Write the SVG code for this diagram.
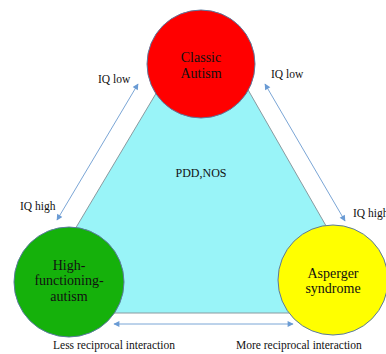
<svg xmlns="http://www.w3.org/2000/svg" width="386" height="354" viewBox="0 0 386 354">
<style>
.t{font-family:"Liberation Serif","Times New Roman",serif;fill:#111;}
.lbl{font-size:11.5px;}
.node{font-size:14px;text-anchor:middle;}
.arr{stroke:#7ba6d6;stroke-width:1;fill:none;marker-start:url(#ah);marker-end:url(#ah);}
.circ{stroke:#5a7aa0;stroke-width:1;}
</style>
<defs>
<marker id="ah" viewBox="0 0 10 10" refX="9" refY="5" markerWidth="7" markerHeight="6" orient="auto-start-reverse" markerUnits="userSpaceOnUse">
<path d="M0,0 L10,5 L0,10 Z" fill="#6a9bd4"/>
</marker>
</defs>
<rect width="386" height="354" fill="#fff"/>
<g id="pdd">
<polygon points="204,13 25,313 376,313" fill="#99f4f8" stroke="#8a9aa0" stroke-width="1"/>
<text class="t" x="201" y="177" font-size="12" text-anchor="middle">PDD,NOS</text>
</g>
<g id="connectors">
<line class="arr" x1="138" y1="84" x2="57" y2="220"/>
<line class="arr" x1="265" y1="84" x2="345" y2="221"/>
<line class="arr" x1="114" y1="324" x2="293" y2="324"/>
</g>
<g id="classic">
<circle class="circ" cx="201" cy="64" r="54" fill="#ff0000"/>
<text class="t node" x="201" y="62">Classic</text>
<text class="t node" x="201" y="78">Autism</text>
</g>
<g id="hfa">
<circle class="circ" cx="69" cy="282" r="55" fill="#15b10b"/>
<text class="t node" x="69" y="270">High-</text>
<text class="t node" x="69" y="285">functioning-</text>
<text class="t node" x="69" y="301">autism</text>
</g>
<g id="asperger">
<circle class="circ" cx="333" cy="280" r="55" fill="#ffff00"/>
<text class="t node" x="333" y="278">Asperger</text>
<text class="t node" x="333" y="293">syndrome</text>
</g>
<g id="labels">
<text class="t lbl" x="98" y="83">IQ low</text>
<text class="t lbl" x="20" y="210">IQ high</text>
<text class="t lbl" x="271" y="78">IQ low</text>
<text class="t lbl" x="353" y="217">IQ high</text>
<text class="t lbl" x="53" y="349">Less reciprocal interaction</text>
<text class="t lbl" x="236" y="349">More reciprocal interaction</text>
</g>
</svg>
